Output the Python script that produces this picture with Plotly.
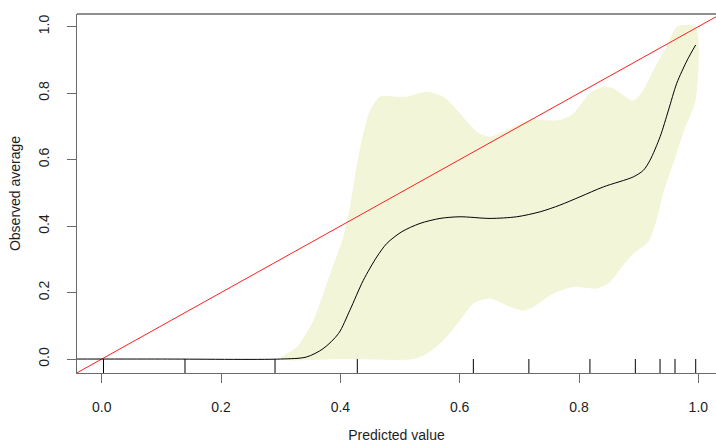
import plotly.graph_objects as go

# Smoothed calibration curve
curve_x = [-0.05, 0.10, 0.30, 0.343, 0.371, 0.397, 0.416, 0.4385, 0.461, 0.478, 0.503, 0.5335,
           0.567, 0.6006, 0.651, 0.6956, 0.735, 0.768, 0.8015, 0.841, 0.891, 0.908, 0.919,
           0.936, 0.950, 0.9638, 0.9816, 0.9956]
curve_y = [0.0, 0.0, 0.0, 0.006, 0.031, 0.077, 0.147, 0.237, 0.307, 0.348, 0.383, 0.408,
           0.423, 0.428, 0.423, 0.428, 0.443, 0.463, 0.488, 0.518, 0.548, 0.568, 0.598,
           0.669, 0.749, 0.8295, 0.90, 0.945]

# Confidence band: upper edge (left to right)
upper_x = [0.299, 0.327, 0.355, 0.383, 0.405, 0.416, 0.427, 0.4385, 0.45, 0.4665, 0.4945,
           0.511, 0.545, 0.5726, 0.6006, 0.6286, 0.651, 0.679, 0.718, 0.768, 0.7905, 0.818,
           0.841, 0.858, 0.891, 0.908, 0.925, 0.947, 0.964, 0.9956]
upper_y = [0.0, 0.036, 0.117, 0.257, 0.367, 0.458, 0.578, 0.679, 0.749, 0.789, 0.789,
           0.789, 0.804, 0.789, 0.739, 0.684, 0.669, 0.689, 0.719, 0.719, 0.739, 0.799,
           0.819, 0.814, 0.777, 0.81, 0.87, 0.94, 1.0, 1.0]
# Lower edge (right to left)
lower_x = [0.9956, 0.9765, 0.9598, 0.941, 0.930, 0.916, 0.891, 0.874, 0.852, 0.83, 0.79,
           0.757, 0.7235, 0.7067, 0.6844, 0.651, 0.623, 0.6006, 0.5726, 0.5448, 0.522, 0.40, 0.299]
lower_y = [0.779, 0.689, 0.598, 0.498, 0.418, 0.352, 0.317, 0.282, 0.232, 0.212, 0.217,
           0.197, 0.157, 0.145, 0.157, 0.182, 0.167, 0.117, 0.056, 0.016, 0.0, 0.0, 0.0]

# Rug (predicted values)
rug_x = [0.003, 0.1396, 0.2905, 0.4284, 0.6229, 0.716, 0.8183, 0.8944, 0.9358, 0.9609, 0.9956]

# Diagonal reference
diag = [-0.1, 1.1]

x_ticks = [0.0, 0.2, 0.4, 0.6, 0.8, 1.0]
y_ticks = [0.0, 0.2, 0.4, 0.6, 0.8, 1.0]
x_tick_text = ["0.0", "0.2", "0.4", "0.6", "0.8", "1.0"]
y_tick_text = ["0.0", "0.2", "0.4", "0.6", "0.8", "1.0"]

AXIS = "#6a6a6a"
TXT = "#1e1e1e"
FONT = "Liberation Sans, Arial, sans-serif"

fig = go.Figure()
fig.add_trace(go.Scatter(x=upper_x + lower_x, y=upper_y + lower_y, fill="toself",
                         fillcolor="#F2F5D8", line=dict(width=0, shape="spline", smoothing=0.7),
                         mode="lines", hoverinfo="skip", showlegend=False))
fig.add_trace(go.Scatter(x=diag, y=diag, mode="lines",
                         line=dict(color="#FF2020", width=1), showlegend=False))
fig.add_trace(go.Scatter(x=curve_x, y=curve_y, mode="lines",
                         line=dict(color="black", width=1, shape="spline", smoothing=0.8),
                         showlegend=False))

shapes = [dict(type="line", xref="paper", yref="paper", x0=0, x1=1, y0=1, y1=1,
               line=dict(color=AXIS, width=1.3))]
for rx in rug_x:
    shapes.append(dict(type="line", xref="x", yref="paper", x0=rx, x1=rx, y0=0, y1=0.039,
                       line=dict(color="black", width=1)))

fig.update_layout(
    width=716, height=444,
    margin=dict(l=77, r=0, t=14, b=71),
    plot_bgcolor="white", paper_bgcolor="white",
    font=dict(family=FONT, size=14, color=TXT),
    shapes=shapes,
    xaxis=dict(range=[-0.0414, 1.0296], showgrid=False, zeroline=False,
               showline=True, linecolor=AXIS, linewidth=1.3,
               ticks="outside", ticklen=9, tickcolor=AXIS, tickwidth=1.3,
               tickvals=x_ticks, ticktext=x_tick_text, ticklabelstandoff=12,
               tickfont=dict(size=14, color=TXT),
               title=dict(text="Predicted value", standoff=16, font=dict(size=14, color=TXT))),
    yaxis=dict(range=[-0.042, 1.038], showgrid=False, zeroline=False,
               showline=True, linecolor=AXIS, linewidth=1.3,
               ticks="outside", ticklen=9, tickcolor=AXIS, tickwidth=1.3,
               tickvals=y_ticks, ticktext=y_tick_text, tickangle=-90, ticklabelstandoff=12,
               tickfont=dict(size=14, color=TXT),
               title=dict(text="Observed average", standoff=12, font=dict(size=14, color=TXT))),
)

fig.write_html("out.html")
